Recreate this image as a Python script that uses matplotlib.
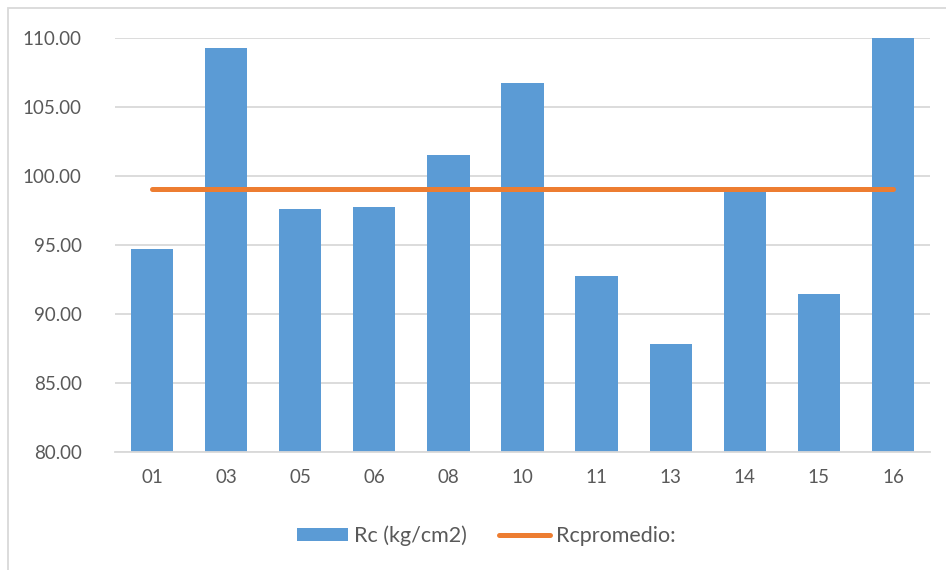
import matplotlib
matplotlib.use("Agg")
import matplotlib.pyplot as plt
from matplotlib.patches import Rectangle

# Datos
muestras = ["01", "03", "05", "06", "08", "10", "11", "13", "14", "15", "16"]
rc = [94.71, 109.28, 97.61, 97.75, 101.52, 106.74, 92.75, 87.83, 98.84, 91.45, 110.96]
rc_promedio = 99.04

azul = "#5B9BD5"
naranja = "#ED7D31"
gris_txt = "#595959"
gris_grid = "#D9D9D9"

plt.rcParams['font.family'] = ['Lato', 'DejaVu Sans']

fig = plt.figure(figsize=(9.46, 5.70), dpi=100)
ax = fig.add_axes([115 / 946, 118 / 570, 815 / 946, 414 / 570])

x = list(range(len(muestras)))
barras = ax.bar(x, rc, width=0.57, color=azul, zorder=2, label="Rc (kg/cm2)")
linea, = ax.plot(x, [rc_promedio] * len(x), color=naranja, lw=3.6,
                 solid_capstyle="round", zorder=3, label="Rcpromedio:")

ax.set_ylim(80, 110)
ax.set_xlim(-0.5, len(muestras) - 0.5)
ax.set_yticks(range(80, 111, 5))
ax.set_yticklabels([f"{v:.2f}" for v in range(80, 111, 5)])
ax.set_xticks(x)
ax.set_xticklabels(muestras)

ax.yaxis.grid(True, color=gris_grid, lw=1.3, zorder=0)
ax.tick_params(length=0, labelsize=13.5, colors=gris_txt)
ax.tick_params(axis="y", pad=24)
ax.tick_params(axis="x", pad=12)
for s in ["top", "right", "left"]:
    ax.spines[s].set_visible(False)
ax.spines["bottom"].set_color(gris_grid)
ax.spines["bottom"].set_linewidth(1.3)

leg = fig.legend([barras, linea], ["Rc (kg/cm2)", "Rcpromedio:"],
                 loc="center", bbox_to_anchor=(0.5 + 13 / 946, 1 - 536 / 570), ncol=2,
                 frameon=False, fontsize=15.5, handlelength=2.4, handleheight=0.55,
                 columnspacing=1.5, handletextpad=0.25)
for t in leg.get_texts():
    t.set_color(gris_txt)

# Borde del grafico
fig.patches.append(Rectangle((8 / 946, -0.1), 1.2, 1 - 8 / 570 + 0.1,
                             transform=fig.transFigure, fill=False,
                             edgecolor=gris_grid, lw=1.3))

fig.savefig("out.png", dpi=100)
